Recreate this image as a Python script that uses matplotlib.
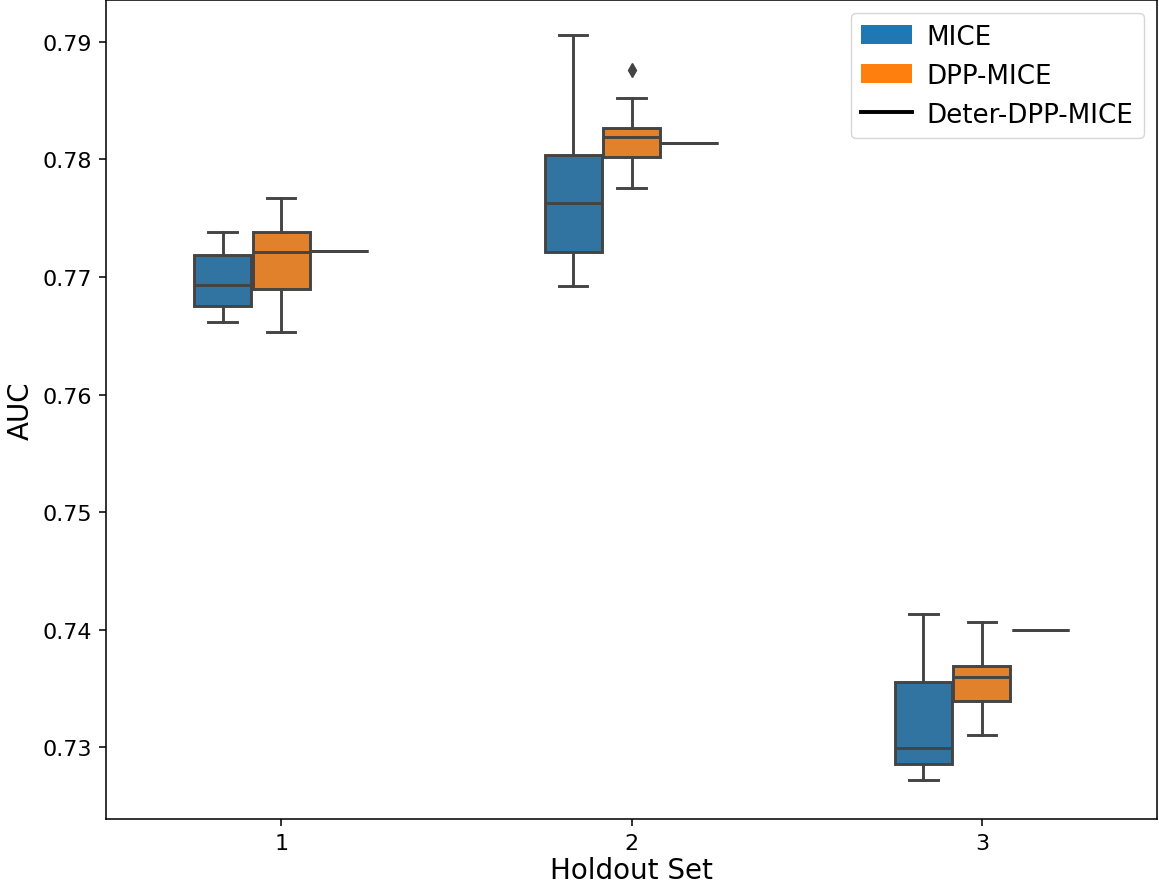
import matplotlib
matplotlib.use("Agg")
import matplotlib.pyplot as plt
from matplotlib.patches import Patch
from matplotlib.lines import Line2D

# ---- data ----
holdout_sets = ["1", "2", "3"]
methods = ["MICE", "DPP-MICE", "Deter-DPP-MICE"]

mice_whislo = [0.76614, 0.76920, 0.72719]
mice_q1 = [0.76750, 0.77214, 0.72858]
mice_med = [0.76934, 0.77626, 0.72994]
mice_q3 = [0.77186, 0.78037, 0.73553]
mice_whishi = [0.77384, 0.79057, 0.74133]
mice_fliers = [[], [], []]

dpp_whislo = [0.76529, 0.77753, 0.73106]
dpp_q1 = [0.76897, 0.78017, 0.73391]
dpp_med = [0.77214, 0.78187, 0.73600]
dpp_q3 = [0.77379, 0.78264, 0.73689]
dpp_whishi = [0.77671, 0.78519, 0.74068]
dpp_fliers = [[], [0.78759], []]

deter_value = [0.77223, 0.78136, 0.74000]

box_colors = ["#3274a1", "#e1812c", "#3a923a"]
legend_colors = ["#1f77b4", "#ff7f0e"]
gray = "#444444"

S = 1.4
fig = plt.figure(figsize=(11.59, 8.87), dpi=100)
ax = fig.add_axes([106 / 1159, 1 - 820 / 887, (1157 - 106) / 1159, (820 - 1) / 887])

width = 0.5
n = len(methods)
each = width / n
box_w = each * 0.98

def stats_list(wl, q1, med, q3, wh, fl):
    out = []
    for i in range(len(holdout_sets)):
        out.append(dict(whislo=wl[i], q1=q1[i], med=med[i], q3=q3[i], whishi=wh[i], fliers=fl[i]))
    return out

series = [
    stats_list(mice_whislo, mice_q1, mice_med, mice_q3, mice_whishi, mice_fliers),
    stats_list(dpp_whislo, dpp_q1, dpp_med, dpp_q3, dpp_whishi, dpp_fliers),
    stats_list(deter_value, deter_value, deter_value, deter_value, deter_value, [[], [], []]),
]

lw = 1.5 * S
for j, st in enumerate(series):
    offset = -width / 2 + each / 2 + j * each
    positions = [i + offset for i in range(len(holdout_sets))]
    ax.bxp(st, positions=positions, widths=box_w, patch_artist=True,
           boxprops=dict(facecolor=box_colors[j], edgecolor=gray, linewidth=lw),
           whiskerprops=dict(color=gray, linewidth=lw),
           capprops=dict(color=gray, linewidth=lw),
           medianprops=dict(color=gray, linewidth=lw),
           flierprops=dict(marker="d", markerfacecolor=gray, markeredgecolor=gray,
                           markersize=5 * S, linestyle="none"),
           showfliers=True, capwidths=box_w / 2, manage_ticks=False)

ax.set_xticks(range(len(holdout_sets)))
ax.set_xticklabels(holdout_sets)
ax.set_xlim(-0.5, len(holdout_sets) - 0.5)
ax.set_ylim(0.7239, 0.79355)
ax.set_yticks([0.73, 0.74, 0.75, 0.76, 0.77, 0.78, 0.79])
ax.set_yticklabels(["0.73", "0.74", "0.75", "0.76", "0.77", "0.78", "0.79"])

ax.tick_params(labelsize=16, length=3.5 * S, width=0.8 * S, pad=3.5 * S)
for sp in ax.spines.values():
    sp.set_linewidth(0.8 * S)

ax.set_xlabel("Holdout Set", fontsize=20, labelpad=2.5)
ax.set_ylabel("AUC", fontsize=20, labelpad=4 * S)

handles = [Patch(facecolor=legend_colors[0], edgecolor="none"),
           Patch(facecolor=legend_colors[1], edgecolor="none"),
           Line2D([0], [0], color="black", linewidth=2.0 * S)]
ax.legend(handles, methods, loc="upper right", fontsize=18.8,
          handlelength=1.95, handletextpad=0.55)

fig.savefig("out.png", dpi=100)
